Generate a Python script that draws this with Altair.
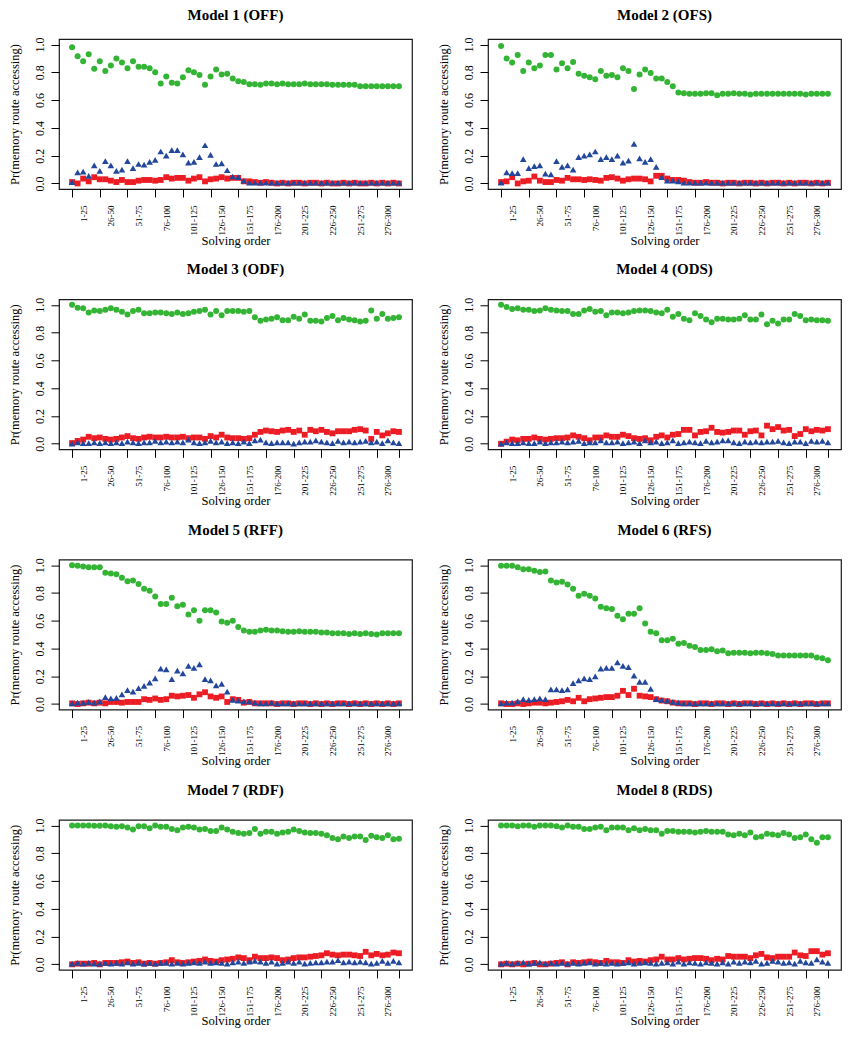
import json
import altair as alt
import pandas as pd

# ---------------- data ----------------
bins = list(range(1, 61))
tick_positions = [1, 6, 11, 16, 21, 26, 31, 36, 41, 46, 51, 56, 60]
label_positions = [3, 8, 13, 18, 23, 28, 33, 38, 43, 48, 53, 58]
tick_labels = ["1-25", "26-50", "51-75", "76-100", "101-125", "126-150",
               "151-175", "176-200", "201-225", "226-250", "251-275", "276-300"]
y_ticks = [0.0, 0.2, 0.4, 0.6, 0.8, 1.0]
panel_titles = ["Model 1 (OFF)", "Model 2 (OFS)", "Model 3 (ODF)", "Model 4 (ODS)",
                "Model 5 (RFF)", "Model 6 (RFS)", "Model 7 (RDF)", "Model 8 (RDS)"]

# green circles
m1_green = [0.98, 0.915, 0.88, 0.93, 0.825, 0.88, 0.81, 0.85, 0.90, 0.87,
            0.83, 0.88, 0.84, 0.84, 0.83, 0.80, 0.72, 0.77, 0.725, 0.72,
            0.765, 0.815, 0.80, 0.78, 0.71, 0.77, 0.82, 0.785, 0.79, 0.755,
            0.735, 0.73, 0.715, 0.715, 0.71, 0.72, 0.72, 0.715, 0.72, 0.715,
            0.715, 0.715, 0.72, 0.715, 0.715, 0.715, 0.715, 0.71, 0.71, 0.71,
            0.71, 0.71, 0.70, 0.70, 0.70, 0.70, 0.70, 0.70, 0.70, 0.70]
m2_green = [0.99, 0.90, 0.87, 0.925, 0.81, 0.87, 0.83, 0.85, 0.925, 0.925,
            0.82, 0.865, 0.83, 0.875, 0.79, 0.775, 0.765, 0.75, 0.81, 0.775,
            0.78, 0.765, 0.83, 0.81, 0.68, 0.785, 0.82, 0.795, 0.755, 0.755,
            0.73, 0.70, 0.655, 0.65, 0.645, 0.645, 0.645, 0.65, 0.65, 0.635,
            0.645, 0.645, 0.65, 0.645, 0.645, 0.64, 0.645, 0.645, 0.645, 0.645,
            0.645, 0.645, 0.645, 0.645, 0.645, 0.64, 0.645, 0.645, 0.645, 0.645]
m3_green = [1.0, 0.98, 0.975, 0.945, 0.96, 0.955, 0.965, 0.975, 0.965, 0.95,
            0.93, 0.955, 0.965, 0.94, 0.94, 0.945, 0.945, 0.94, 0.935, 0.945,
            0.935, 0.94, 0.95, 0.955, 0.965, 0.93, 0.955, 0.925, 0.955, 0.955,
            0.955, 0.95, 0.955, 0.91, 0.885, 0.895, 0.90, 0.91, 0.89, 0.89,
            0.915, 0.90, 0.93, 0.885, 0.885, 0.88, 0.905, 0.92, 0.89, 0.905,
            0.895, 0.89, 0.88, 0.885, 0.96, 0.90, 0.935, 0.90, 0.905, 0.91]
m4_green = [1.0, 0.985, 0.97, 0.975, 0.965, 0.965, 0.955, 0.96, 0.975, 0.965,
            0.96, 0.955, 0.955, 0.935, 0.935, 0.96, 0.97, 0.95, 0.955, 0.925,
            0.945, 0.945, 0.94, 0.945, 0.955, 0.96, 0.96, 0.955, 0.945, 0.94,
            0.965, 0.915, 0.935, 0.90, 0.89, 0.94, 0.92, 0.895, 0.875, 0.90,
            0.90, 0.895, 0.895, 0.90, 0.925, 0.895, 0.895, 0.93, 0.86, 0.885,
            0.865, 0.895, 0.895, 0.935, 0.92, 0.89, 0.895, 0.89, 0.89, 0.885]
m5_green = [1.0, 0.995, 0.99, 0.985, 0.985, 0.985, 0.945, 0.94, 0.935, 0.91,
            0.885, 0.89, 0.865, 0.83, 0.815, 0.775, 0.72, 0.72, 0.765, 0.705,
            0.715, 0.645, 0.675, 0.60, 0.675, 0.675, 0.66, 0.595, 0.585, 0.60,
            0.555, 0.53, 0.52, 0.52, 0.53, 0.535, 0.53, 0.53, 0.525, 0.52,
            0.52, 0.525, 0.52, 0.52, 0.52, 0.515, 0.515, 0.51, 0.51, 0.51,
            0.505, 0.51, 0.505, 0.51, 0.505, 0.50, 0.51, 0.51, 0.51, 0.51]
m6_green = [0.995, 0.995, 0.995, 0.985, 0.97, 0.97, 0.96, 0.95, 0.955, 0.89,
            0.875, 0.88, 0.86, 0.83, 0.78, 0.795, 0.78, 0.76, 0.70, 0.69,
            0.685, 0.635, 0.61, 0.65, 0.65, 0.69, 0.58, 0.52, 0.51, 0.46,
            0.46, 0.47, 0.435, 0.44, 0.42, 0.41, 0.39, 0.39, 0.395, 0.38,
            0.385, 0.365, 0.37, 0.37, 0.37, 0.365, 0.37, 0.37, 0.365, 0.36,
            0.35, 0.35, 0.35, 0.35, 0.35, 0.35, 0.35, 0.335, 0.33, 0.315]
m7_green = [1.0, 1.0, 1.0, 1.0, 0.998, 0.998, 1.0, 0.995, 0.99, 0.995,
            0.985, 0.97, 0.995, 0.995, 0.98, 1.0, 0.99, 0.99, 0.975, 0.965,
            0.985, 0.99, 0.985, 0.97, 0.975, 0.96, 0.96, 0.985, 0.97, 0.955,
            0.945, 0.94, 0.945, 0.975, 0.94, 0.955, 0.955, 0.94, 0.95, 0.955,
            0.97, 0.96, 0.95, 0.945, 0.945, 0.94, 0.93, 0.91, 0.90, 0.92,
            0.91, 0.92, 0.92, 0.895, 0.925, 0.915, 0.91, 0.93, 0.90, 0.905]
m8_green = [1.0, 1.0, 1.0, 0.995, 1.0, 1.0, 0.99, 1.0, 1.0, 1.0,
            0.995, 0.985, 1.0, 0.99, 0.99, 0.975, 0.975, 0.985, 0.99, 0.965,
            0.985, 0.985, 0.985, 0.965, 0.98, 0.965, 0.975, 0.965, 0.965, 0.94,
            0.96, 0.96, 0.955, 0.955, 0.955, 0.95, 0.955, 0.96, 0.955, 0.955,
            0.955, 0.935, 0.93, 0.94, 0.93, 0.95, 0.915, 0.92, 0.94, 0.935,
            0.93, 0.945, 0.935, 0.91, 0.915, 0.935, 0.90, 0.875, 0.915, 0.915]

# red squares
m1_red = [0.01, 0.0, 0.035, 0.015, 0.045, 0.03, 0.03, 0.02, 0.01, 0.025,
          0.01, 0.01, 0.02, 0.025, 0.025, 0.02, 0.025, 0.045, 0.035, 0.04,
          0.04, 0.02, 0.035, 0.045, 0.015, 0.03, 0.035, 0.045, 0.035, 0.04,
          0.04, 0.015, 0.015, 0.01, 0.005, 0.01, 0.005, 0.0, 0.005, 0.0,
          0.005, 0.005, 0.0, 0.005, 0.005, 0.0, 0.005, 0.0, 0.0, 0.005,
          0.0, 0.005, 0.0, 0.0, 0.005, 0.0, 0.005, 0.0, 0.005, 0.0]
m2_red = [0.01, 0.015, 0.045, 0.0, 0.015, 0.02, 0.05, 0.02, 0.01, 0.01,
          0.025, 0.02, 0.04, 0.03, 0.03, 0.025, 0.03, 0.025, 0.02, 0.04,
          0.045, 0.035, 0.02, 0.03, 0.035, 0.035, 0.03, 0.015, 0.055, 0.055,
          0.035, 0.025, 0.025, 0.02, 0.01, 0.005, 0.005, 0.01, 0.005, 0.005,
          0.0, 0.005, 0.005, 0.0, 0.005, 0.005, 0.0, 0.005, 0.0, 0.005,
          0.005, 0.0, 0.005, 0.0, 0.005, 0.005, 0.0, 0.005, 0.0, 0.005]
m3_red = [0.005, 0.02, 0.03, 0.05, 0.04, 0.045, 0.035, 0.03, 0.035, 0.045,
          0.055, 0.04, 0.035, 0.045, 0.05, 0.045, 0.045, 0.05, 0.045, 0.045,
          0.05, 0.04, 0.045, 0.045, 0.035, 0.055, 0.045, 0.065, 0.045, 0.04,
          0.04, 0.035, 0.04, 0.065, 0.085, 0.095, 0.09, 0.085, 0.095, 0.10,
          0.085, 0.095, 0.065, 0.10, 0.09, 0.10, 0.085, 0.075, 0.09, 0.09,
          0.09, 0.10, 0.105, 0.095, 0.035, 0.085, 0.06, 0.075, 0.09, 0.085]
m4_red = [0.0, 0.015, 0.03, 0.025, 0.035, 0.035, 0.045, 0.035, 0.03, 0.035,
          0.04, 0.04, 0.045, 0.06, 0.05, 0.04, 0.025, 0.045, 0.045, 0.06,
          0.05, 0.05, 0.065, 0.055, 0.04, 0.035, 0.04, 0.025, 0.05, 0.06,
          0.045, 0.065, 0.07, 0.10, 0.10, 0.06, 0.085, 0.09, 0.115, 0.085,
          0.08, 0.085, 0.095, 0.095, 0.065, 0.09, 0.095, 0.06, 0.13, 0.105,
          0.12, 0.095, 0.10, 0.055, 0.07, 0.105, 0.09, 0.10, 0.095, 0.105]
m5_red = [0.005, 0.0, 0.005, 0.01, 0.005, 0.01, 0.005, 0.015, 0.015, 0.01,
          0.015, 0.015, 0.015, 0.035, 0.03, 0.04, 0.03, 0.035, 0.06, 0.055,
          0.06, 0.065, 0.045, 0.07, 0.085, 0.055, 0.045, 0.055, 0.015, 0.035,
          0.03, 0.01, 0.015, 0.005, 0.005, 0.005, 0.005, 0.0, 0.005, 0.005,
          0.0, 0.005, 0.005, 0.0, 0.005, 0.0, 0.005, 0.0, 0.005, 0.005,
          0.0, 0.005, 0.0, 0.005, 0.0, 0.005, 0.0, 0.005, 0.0, 0.005]
m6_red = [0.005, 0.0, 0.0, 0.005, 0.0, 0.005, 0.01, 0.01, 0.005, 0.01,
          0.015, 0.02, 0.03, 0.02, 0.045, 0.02, 0.035, 0.04, 0.045, 0.05,
          0.05, 0.06, 0.095, 0.065, 0.11, 0.06, 0.055, 0.05, 0.035, 0.025,
          0.02, 0.01, 0.005, 0.005, 0.005, 0.0, 0.005, 0.005, 0.0, 0.005,
          0.005, 0.0, 0.005, 0.0, 0.005, 0.005, 0.0, 0.005, 0.0, 0.005,
          0.0, 0.005, 0.0, 0.005, 0.0, 0.005, 0.005, 0.0, 0.005, 0.005]
m7_red = [0.0, 0.005, 0.005, 0.005, 0.01, 0.0, 0.01, 0.01, 0.01, 0.015,
          0.02, 0.01, 0.015, 0.005, 0.01, 0.005, 0.01, 0.015, 0.03, 0.015,
          0.01, 0.015, 0.02, 0.025, 0.035, 0.025, 0.02, 0.03, 0.035, 0.04,
          0.05, 0.045, 0.03, 0.055, 0.045, 0.045, 0.05, 0.045, 0.03, 0.035,
          0.045, 0.05, 0.05, 0.055, 0.06, 0.065, 0.08, 0.07, 0.065, 0.07,
          0.07, 0.065, 0.06, 0.09, 0.065, 0.075, 0.065, 0.07, 0.085, 0.08]
m8_red = [0.0, 0.005, 0.0, 0.005, 0.0, 0.005, 0.01, 0.0, 0.0, 0.005,
          0.01, 0.015, 0.0, 0.015, 0.01, 0.015, 0.02, 0.015, 0.01, 0.025,
          0.015, 0.015, 0.01, 0.03, 0.02, 0.025, 0.02, 0.03, 0.035, 0.055,
          0.035, 0.035, 0.045, 0.035, 0.04, 0.045, 0.045, 0.04, 0.03, 0.04,
          0.035, 0.06, 0.055, 0.055, 0.055, 0.045, 0.065, 0.075, 0.05, 0.045,
          0.055, 0.055, 0.055, 0.085, 0.065, 0.06, 0.095, 0.095, 0.07, 0.08]

# blue triangles
m1_blue = [0.01, 0.08, 0.085, 0.055, 0.13, 0.09, 0.16, 0.13, 0.09, 0.10,
           0.16, 0.11, 0.14, 0.135, 0.155, 0.17, 0.23, 0.20, 0.24, 0.24,
           0.21, 0.15, 0.155, 0.19, 0.275, 0.205, 0.14, 0.145, 0.095, 0.05,
           0.045, 0.02, 0.005, 0.005, 0.005, 0.005, 0.005, 0.005, 0.005, 0.005,
           0.005, 0.005, 0.005, 0.005, 0.005, 0.005, 0.005, 0.005, 0.005, 0.005,
           0.005, 0.005, 0.005, 0.005, 0.005, 0.005, 0.005, 0.005, 0.005, 0.005]
m2_blue = [0.005, 0.08, 0.075, 0.075, 0.175, 0.11, 0.125, 0.13, 0.07, 0.065,
           0.16, 0.12, 0.13, 0.10, 0.19, 0.20, 0.21, 0.23, 0.175, 0.19,
           0.175, 0.20, 0.15, 0.165, 0.285, 0.18, 0.155, 0.175, 0.12, 0.045,
           0.02, 0.02, 0.015, 0.005, 0.005, 0.005, 0.005, 0.005, 0.005, 0.005,
           0.005, 0.005, 0.005, 0.005, 0.005, 0.005, 0.005, 0.005, 0.005, 0.005,
           0.005, 0.005, 0.005, 0.005, 0.005, 0.005, 0.005, 0.005, 0.005, 0.005]
m3_blue = [0.0, 0.01, 0.005, 0.005, 0.01, 0.005, 0.01, 0.005, 0.01, 0.005,
           0.015, 0.01, 0.005, 0.01, 0.01, 0.02, 0.01, 0.015, 0.01, 0.015,
           0.01, 0.03, 0.01, 0.005, 0.01, 0.02, 0.01, 0.015, 0.005, 0.01,
           0.005, 0.015, 0.005, 0.025, 0.03, 0.01, 0.005, 0.01, 0.01, 0.01,
           0.0, 0.01, 0.015, 0.015, 0.025, 0.015, 0.01, 0.005, 0.02, 0.01,
           0.015, 0.01, 0.015, 0.02, 0.01, 0.015, 0.005, 0.025, 0.01, 0.005]
m4_blue = [0.0, 0.01, 0.005, 0.005, 0.01, 0.005, 0.005, 0.015, 0.005, 0.01,
           0.01, 0.015, 0.01, 0.015, 0.02, 0.005, 0.01, 0.01, 0.025, 0.01,
           0.01, 0.015, 0.005, 0.01, 0.015, 0.005, 0.025, 0.01, 0.015, 0.005,
           0.01, 0.025, 0.005, 0.01, 0.015, 0.01, 0.005, 0.02, 0.01, 0.015,
           0.025, 0.025, 0.01, 0.005, 0.015, 0.01, 0.015, 0.01, 0.015, 0.015,
           0.02, 0.01, 0.005, 0.015, 0.015, 0.005, 0.02, 0.015, 0.02, 0.01]
m5_blue = [0.005, 0.01, 0.01, 0.015, 0.01, 0.02, 0.05, 0.04, 0.045, 0.07,
           0.10, 0.09, 0.115, 0.13, 0.155, 0.185, 0.255, 0.25, 0.18, 0.24,
           0.22, 0.275, 0.26, 0.285, 0.18, 0.17, 0.135, 0.145, 0.09, 0.03,
           0.025, 0.02, 0.02, 0.01, 0.005, 0.005, 0.01, 0.005, 0.005, 0.005,
           0.005, 0.005, 0.005, 0.005, 0.005, 0.005, 0.005, 0.005, 0.005, 0.005,
           0.005, 0.005, 0.005, 0.005, 0.005, 0.005, 0.005, 0.005, 0.005, 0.005]
m6_blue = [0.005, 0.01, 0.01, 0.02, 0.035, 0.03, 0.035, 0.04, 0.035, 0.105,
           0.105, 0.10, 0.105, 0.15, 0.17, 0.185, 0.18, 0.20, 0.255, 0.26,
           0.26, 0.30, 0.275, 0.265, 0.205, 0.16, 0.16, 0.11, 0.035, 0.03,
           0.025, 0.015, 0.01, 0.005, 0.005, 0.005, 0.005, 0.005, 0.005, 0.005,
           0.005, 0.005, 0.005, 0.005, 0.005, 0.005, 0.005, 0.005, 0.005, 0.005,
           0.005, 0.005, 0.005, 0.005, 0.005, 0.005, 0.005, 0.005, 0.005, 0.005]
m7_blue = [0.005, 0.01, 0.005, 0.01, 0.005, 0.005, 0.01, 0.005, 0.01, 0.005,
           0.015, 0.005, 0.01, 0.005, 0.01, 0.005, 0.01, 0.01, 0.005, 0.01,
           0.005, 0.01, 0.015, 0.01, 0.02, 0.01, 0.015, 0.01, 0.005, 0.015,
           0.02, 0.01, 0.02, 0.025, 0.02, 0.01, 0.02, 0.005, 0.01, 0.02,
           0.01, 0.02, 0.005, 0.01, 0.015, 0.015, 0.02, 0.02, 0.03, 0.015,
           0.02, 0.015, 0.02, 0.015, 0.005, 0.01, 0.025, 0.01, 0.025, 0.015]
m8_blue = [0.005, 0.01, 0.005, 0.01, 0.015, 0.005, 0.01, 0.015, 0.005, 0.01,
           0.005, 0.01, 0.005, 0.01, 0.005, 0.01, 0.015, 0.005, 0.01, 0.005,
           0.01, 0.005, 0.01, 0.015, 0.005, 0.01, 0.015, 0.01, 0.005, 0.01,
           0.015, 0.005, 0.02, 0.005, 0.015, 0.01, 0.005, 0.015, 0.01, 0.005,
           0.015, 0.005, 0.02, 0.01, 0.02, 0.015, 0.025, 0.005, 0.01, 0.025,
           0.02, 0.01, 0.015, 0.005, 0.025, 0.015, 0.01, 0.035, 0.02, 0.01]

green = [m1_green, m2_green, m3_green, m4_green, m5_green, m6_green, m7_green, m8_green]
red = [m1_red, m2_red, m3_red, m4_red, m5_red, m6_red, m7_red, m8_red]
blue = [m1_blue, m2_blue, m3_blue, m4_blue, m5_blue, m6_blue, m7_blue, m8_blue]

for group in (green, red, blue):
    for s in group:
        assert len(s) == 60, len(s)

records = []
for p in range(8):
    for series, vals in (("a", green[p]), ("b", red[p]), ("c", blue[p])):
        for b, v in zip(bins, vals):
            records.append({"panel": p, "series": series, "bin": b, "value": v})
df = pd.DataFrame(records)

# ---------------- style ----------------
FONT = "Liberation Serif"
GREEN = "#34b434"
RED = "#ec1c24"
BLUE = "#22479b"
PW, PH = 353, 150

axis_values = sorted(set(tick_positions) | set(label_positions))
lab_js = json.dumps(tick_labels)
pos_js = json.dumps(label_positions)
tick_js = json.dumps(tick_positions)

x_axis = alt.Axis(
    values=axis_values,
    labelExpr=f"indexof({pos_js}, datum.value) >= 0 ? {lab_js}[indexof({pos_js}, datum.value)] : ''",
    tickOpacity=alt.condition(f"indexof({tick_js}, datum.value) >= 0", alt.value(1), alt.value(0)),
    labelAngle=270, labelAlign="right", labelBaseline="middle",
    labelPadding=8, tickSize=8, tickColor="black", tickWidth=1,
    labelFont=FONT, labelFontSize=9, labelColor="black",
    labelOverlap=False, labelFlush=False, domain=False, grid=False,
    title="Solving order", titleFont=FONT, titleFontSize=12.6, titleFontWeight="normal",
    titleColor="black", titleY=55, titleBaseline="alphabetic",
)
y_axis = alt.Axis(
    values=y_ticks, format=".1f",
    labelAngle=270, labelAlign="center", labelBaseline="alphabetic",
    labelPadding=8, tickSize=8, tickColor="black", tickWidth=1,
    labelFont=FONT, labelFontSize=12, labelColor="black",
    labelOverlap=False, labelFlush=False, domain=False, grid=False,
    title="Pr(memory route accessing)", titleFont=FONT, titleFontSize=12.5,
    titleFontWeight="normal", titleColor="black", titleX=-41,
    titleAngle=270, titleBaseline="alphabetic", titleAlign="center",
)

X = alt.X("bin:Q", scale=alt.Scale(domain=[-1.36, 62.36], nice=False, zero=False), axis=x_axis)
Y = alt.Y("value:Q", scale=alt.Scale(domain=[-0.04, 1.04], nice=False, zero=False), axis=y_axis)


def panel(p):
    base = alt.Chart(df).transform_filter(alt.datum.panel == p)
    g = base.transform_filter(alt.datum.series == "a").mark_point(
        shape="circle", filled=True, size=36, opacity=1, color=GREEN).encode(x=X, y=Y)
    r = base.transform_filter(alt.datum.series == "b").mark_point(
        shape="square", filled=True, size=34, opacity=1, color=RED).encode(x=X, y=Y)
    b = base.transform_filter(alt.datum.series == "c").mark_point(
        shape="triangle-up", filled=True, size=44, opacity=1, color=BLUE).encode(x=X, y=Y)
    title_offset = 14 if p < 2 else 20
    return alt.layer(g, r, b).properties(
        width=PW, height=PH,
        title=alt.TitleParams(panel_titles[p], font=FONT, fontSize=15, fontWeight="bold",
                              color="black", anchor="middle", offset=title_offset),
    )


chart = alt.concat(*[panel(p) for p in range(8)], columns=2,
                   spacing={"row": 110.3, "column": 76}, bounds="flush").properties(
    padding={"left": -1, "top": -1, "right": 0, "bottom": 0},
    background="white",
).configure_view(stroke="#1a1a1a", strokeWidth=1.2)

chart.save("out.html", embed_options={"renderer": "svg", "actions": False})
